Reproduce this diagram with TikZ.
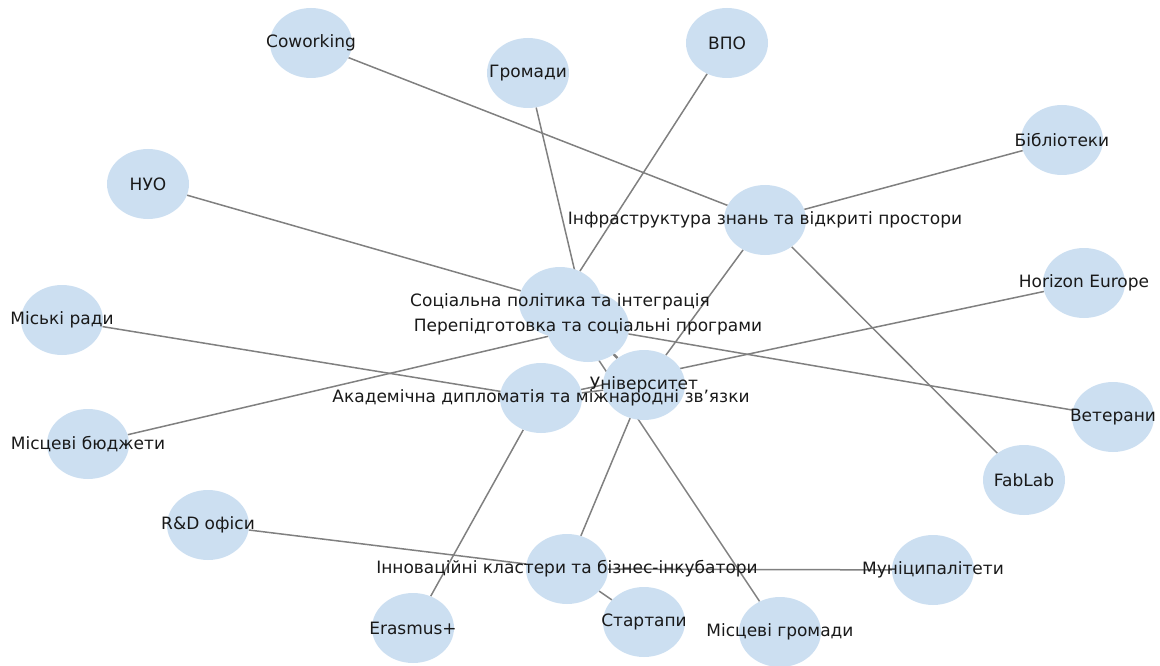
\documentclass[tikz,border=0pt]{standalone}
\usepackage{fontspec}
\setmainfont{DejaVu Sans}
\usetikzlibrary{shapes.geometric,backgrounds}
\definecolor{nodeblue}{HTML}{CCDFF1}
\definecolor{edgegray}{HTML}{808080}
\tikzset{
  dot/.style  = {ellipse, fill=nodeblue, minimum width=82pt, minimum height=70pt, inner sep=0pt},
  lbl/.style  = {font=\fontsize{17}{19}\selectfont, inner sep=0pt, text=black!90},
  link/.style = {draw=edgegray, line width=1.5pt},
}
\begin{document}
\begin{tikzpicture}[x=1pt,y=-1pt]
    \useasboundingbox (0,0) rectangle (1160,666);

    % Hubs
    \node[dot] (univ)  at (644,385) {};
    \node[dot] (soc)   at (560,302) {};
    \node[dot] (perep) at (588,327) {};
    \node[dot] (acad)  at (541,398) {};
    \node[dot] (infra) at (765,220) {};
    \node[dot] (innov) at (567,569) {};

    % Leaves
    \node[dot] (cowork)   at (311,43)  {};
    \node[dot] (vpo)      at (727,43)  {};
    \node[dot] (hromady)  at (528,73)  {};
    \node[dot] (nuo)      at (148,184) {};
    \node[dot] (biblio)   at (1062,140) {};
    \node[dot] (horizon)  at (1084,283) {};
    \node[dot] (veterany) at (1113,417) {};
    \node[dot] (fablab)   at (1024,480) {};
    \node[dot] (miski)    at (62,320)  {};
    \node[dot] (budget)   at (88,444)  {};
    \node[dot] (rd)       at (208,525) {};
    \node[dot] (erasmus)  at (413,628) {};
    \node[dot] (startup)  at (644,622) {};
    \node[dot] (mhromady) at (780,632) {};
    \node[dot] (municip)  at (933,570) {};

    % Edges behind the discs
    \begin{scope}[on background layer]
      \draw[link] (univ) -- (soc);
      \draw[link] (univ) -- (perep);
      \draw[link] (univ) -- (acad);
      \draw[link] (univ) -- (infra);
      \draw[link] (univ) -- (innov);

      \draw[link] (infra) -- (cowork);
      \draw[link] (infra) -- (biblio);
      \draw[link] (infra) -- (fablab);

      \draw[link] (soc) -- (vpo);
      \draw[link] (soc) -- (nuo);
      \draw[link] (soc) -- (mhromady);

      \draw[link] (perep) -- (hromady);
      \draw[link] (perep) -- (veterany);
      \draw[link] (perep) -- (budget);

      \draw[link] (acad) -- (miski);
      \draw[link] (acad) -- (horizon);
      \draw[link] (acad) -- (erasmus);

      \draw[link] (innov) -- (rd);
      \draw[link] (innov) -- (startup);
      \draw[link] (innov) -- (municip);
    \end{scope}

    % Labels on top
    \node[lbl] (t-soc)   at (soc)   {Соціальна політика та інтеграція};
    \node[lbl] (t-perep) at (perep) {Перепідготовка та соціальні програми};
    \node[lbl] (t-univ)  at (univ)  {Університет};
    \node[lbl] (t-acad)  at (acad)  {Академічна дипломатія та міжнародні зв’язки};
    \node[lbl] (t-infra) at (infra) {Інфраструктура знань та відкриті простори};
    \node[lbl] (t-innov) at (innov) {Інноваційні кластери та бізнес-інкубатори};

    \node[lbl] (t-cowork)   at (cowork)   {Coworking};
    \node[lbl] (t-vpo)      at (vpo)      {ВПО};
    \node[lbl] (t-hromady)  at (hromady)  {Громади};
    \node[lbl] (t-nuo)      at (nuo)      {НУО};
    \node[lbl] (t-biblio)   at (biblio)   {Бібліотеки};
    \node[lbl] (t-horizon)  at (horizon)  {Horizon Europe};
    \node[lbl] (t-veterany) at (veterany) {Ветерани};
    \node[lbl] (t-fablab)   at (fablab)   {FabLab};
    \node[lbl] (t-miski)    at (miski)    {Міські ради};
    \node[lbl] (t-budget)   at (budget)   {Місцеві бюджети};
    \node[lbl] (t-rd)       at (rd)       {R\&D офіси};
    \node[lbl] (t-erasmus)  at (erasmus)  {Erasmus+};
    \node[lbl] (t-startup)  at (startup)  {Стартапи};
    \node[lbl] (t-mhromady) at (mhromady) {Місцеві громади};
    \node[lbl] (t-municip)  at (municip)  {Муніципалітети};
\end{tikzpicture}
\end{document}
